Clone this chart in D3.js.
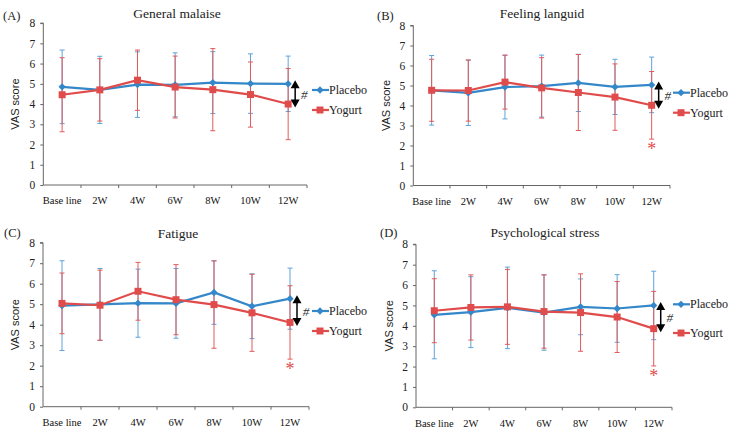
<!DOCTYPE html>
<html><head><meta charset="utf-8">
<script src="https://cdn.jsdelivr.net/npm/d3@7"></script>
<style>body{margin:0;background:#fff}svg{display:block}</style>
</head><body>
<svg id="c" width="730" height="433"></svg>
<script>
const categories = ["Base line","2W","4W","6W","8W","10W","12W"];
const yTicks = [0,1,2,3,4,5,6,7,8];
const panelTitles = ["General malaise","Feeling languid","Fatigue","Psychological stress"];
const panelLabels = ["(A)","(B)","(C)","(D)"];
const seriesNames = ["Placebo","Yogurt"];

const placeboMeanA = [4.85, 4.70, 4.96, 4.95, 5.06, 5.01, 5.00];
const placeboSdA   = [1.82, 1.66, 1.62, 1.58, 1.53, 1.47, 1.37];
const yogurtMeanA  = [4.46, 4.70, 5.18, 4.84, 4.71, 4.47, 4.00];
const yogurtSdA    = [1.83, 1.54, 1.49, 1.53, 2.03, 1.61, 1.76];

const placeboMeanB = [4.76, 4.63, 4.92, 4.97, 5.13, 4.93, 5.03];
const placeboSdB   = [1.74, 1.63, 1.59, 1.55, 1.43, 1.38, 1.39];
const yogurtMeanB  = [4.76, 4.75, 5.17, 4.88, 4.65, 4.42, 4.01];
const yogurtSdB    = [1.55, 1.53, 1.35, 1.51, 1.90, 1.66, 1.69];

const placeboMeanC = [4.93, 4.99, 5.05, 5.04, 5.57, 4.90, 5.27];
const placeboSdC   = [2.19, 1.75, 1.66, 1.70, 1.55, 1.58, 1.49];
const yogurtMeanC  = [5.04, 4.95, 5.63, 5.22, 4.98, 4.58, 4.11];
const yogurtSdC    = [1.48, 1.71, 1.41, 1.71, 2.13, 1.88, 1.79];

const placeboMeanD = [4.54, 4.67, 4.88, 4.65, 4.93, 4.85, 5.00];
const placeboSdD   = [2.16, 1.74, 2.00, 1.85, 1.37, 1.66, 1.68];
const yogurtMeanD  = [4.74, 4.90, 4.93, 4.70, 4.65, 4.43, 3.86];
const yogurtSdD    = [1.57, 1.60, 1.84, 1.80, 1.90, 1.74, 1.83];

// significance: which panels show the asterisk at 12W
const showStar = [false, true, true, true];

const panelData = [
  [placeboMeanA, placeboSdA, yogurtMeanA, yogurtSdA],
  [placeboMeanB, placeboSdB, yogurtMeanB, yogurtSdB],
  [placeboMeanC, placeboSdC, yogurtMeanC, yogurtSdC],
  [placeboMeanD, placeboSdD, yogurtMeanD, yogurtSdD]
];

// layout (pixels)
const layout = [
  {x0:43.3, x1:307, yb:185, yt:23.1, tx:177, ty:18, lx:3, ly:20, vx:15, legY:[90,110], legX:312},
  {x0:413.3, x1:670, yb:185.5, yt:25.5, tx:542, ty:18, lx:377, ly:20, vx:386, legY:[92.7,112.7], legX:673},
  {x0:43, x1:309, yb:406.7, yt:242.7, tx:178, ty:238, lx:4, ly:237, vx:15, legY:[311,331], legX:312},
  {x0:416, x1:672, yb:407.3, yt:244.3, tx:545, ty:237, lx:380, ly:237, vx:389, legY:[304.3,333], legX:673}
];

const BLUE = "#3487c8", RED = "#e04b4b";
const BLUE_EB = "#5fa3d9", RED_EB = "#e35a5a";
const serif = "'Liberation Serif','DejaVu Serif',serif";
const sans = "'Liberation Sans',Arial,sans-serif";

const svg = d3.select("#c");

panelData.forEach((pd, pi) => {
  const L = layout[pi];
  const g = svg.append("g");
  const x = d3.scaleBand().domain(categories).range([L.x0, L.x1]).padding(0);
  const y = d3.scaleLinear().domain([0, 8]).range([L.yb, L.yt]);
  const cx = c => x(c) + x.bandwidth()/2;

  // y axis
  const ya = g.append("g").attr("transform", `translate(${L.x0},0)`)
    .call(d3.axisLeft(y).tickValues(yTicks).tickSize(3).tickPadding(5));
  ya.select(".domain").attr("stroke", "#666").attr("d", `M-3,${y(8)}H0V${y(0)}`);
  ya.selectAll(".tick line").attr("stroke", "#666");
  ya.selectAll(".tick text").attr("font-family", serif).attr("font-size", 11.5).attr("fill", "#222");

  // x axis: ticks between categories
  const xa = g.append("g").attr("transform", `translate(0,${L.yb})`)
    .call(d3.axisBottom(x).tickSize(0).tickPadding(12));
  xa.select(".domain").attr("stroke", "#666").attr("d", `M${L.x0},0H${L.x1}`);
  xa.selectAll(".tick text").attr("font-family", serif).attr("font-size", 10.5).attr("fill", "#111");
  g.append("g").selectAll("line").data(categories.slice(1).concat(["__end"]))
    .join("line")
    .attr("x1", (c,i) => i < categories.length-1 ? x(c) : L.x1)
    .attr("x2", (c,i) => i < categories.length-1 ? x(c) : L.x1)
    .attr("y1", L.yb).attr("y2", L.yb + 3).attr("stroke", "#666");

  const series = [
    {mean: pd[0], sd: pd[1], col: BLUE, eb: BLUE_EB, shape: "diamond"},
    {mean: pd[2], sd: pd[3], col: RED, eb: RED_EB, shape: "square"}
  ];

  // error bars (blue first, then red)
  series.forEach(s => {
    const eg = g.append("g").attr("stroke", s.eb).attr("stroke-width", 1);
    categories.forEach((c, i) => {
      const xc = cx(c), hi = y(s.mean[i] + s.sd[i]), lo = y(s.mean[i] - s.sd[i]);
      eg.append("line").attr("x1", xc).attr("x2", xc).attr("y1", hi).attr("y2", lo);
      eg.append("line").attr("x1", xc-2.5).attr("x2", xc+2.5).attr("y1", hi).attr("y2", hi);
      eg.append("line").attr("x1", xc-2.5).attr("x2", xc+2.5).attr("y1", lo).attr("y2", lo);
    });
  });

  // lines and markers
  series.forEach(s => {
    const line = d3.line().x((v,i) => cx(categories[i])).y(v => y(v));
    g.append("path").attr("d", line(s.mean)).attr("fill", "none")
      .attr("stroke", s.col).attr("stroke-width", 2.2);
    const sym = s.shape === "diamond"
      ? d3.symbol().type(d3.symbolDiamond2).size(34)
      : d3.symbol().type(d3.symbolSquare2).size(62);
    g.append("g").selectAll("path").data(s.mean).join("path")
      .attr("d", sym)
      .attr("transform", (v,i) => `translate(${cx(categories[i])},${y(v)})`)
      .attr("fill", s.col);
  });

  // double-headed arrow at 12W
  const last = categories.length - 1;
  const xl = cx(categories[last]) + 7;
  const yTop = y(pd[0][last]) - 3.5, yBot = y(pd[2][last]) + 3.5;
  g.append("line").attr("x1", xl).attr("x2", xl).attr("y1", yTop + 6).attr("y2", yBot - 6)
    .attr("stroke", "#000").attr("stroke-width", 1.5);
  g.append("path").attr("d", `M${xl},${yTop}L${xl-4.5},${yTop+8}L${xl+4.5},${yTop+8}Z`).attr("fill", "#000");
  g.append("path").attr("d", `M${xl},${yBot}L${xl-4.5},${yBot-8}L${xl+4.5},${yBot-8}Z`).attr("fill", "#000");
  g.append("text").attr("x", xl + 9).attr("y", (yTop + yBot)/2 + 5)
    .attr("text-anchor", "middle").attr("font-family", serif).attr("font-size", 13)
    .attr("font-style", "italic").attr("fill", "#333").text("#");

  if (showStar[pi]) {
    const ylo = y(pd[2][last] - pd[3][last]);
    g.append("text").attr("x", cx(categories[last])).attr("y", ylo + 16)
      .attr("text-anchor", "middle").attr("font-family", serif).attr("font-size", 18)
      .attr("fill", RED).text("*");
  }

  // legend
  series.forEach((s, si) => {
    const ly = L.legY[si];
    g.append("line").attr("x1", L.legX).attr("x2", L.legX + 17).attr("y1", ly).attr("y2", ly)
      .attr("stroke", s.col).attr("stroke-width", 2.2);
    const sym = s.shape === "diamond"
      ? d3.symbol().type(d3.symbolDiamond2).size(34)
      : d3.symbol().type(d3.symbolSquare2).size(62);
    g.append("path").attr("d", sym).attr("transform", `translate(${L.legX + 8},${ly})`).attr("fill", s.col);
    g.append("text").attr("x", L.legX + 17).attr("y", ly + 4)
      .attr("font-family", serif).attr("font-size", 12).attr("fill", "#222").text(seriesNames[si]);
  });

  // titles and labels
  g.append("text").attr("x", L.tx).attr("y", L.ty).attr("text-anchor", "middle")
    .attr("font-family", serif).attr("font-size", 13.5).attr("fill", "#222").text(panelTitles[pi]);
  g.append("text").attr("x", L.lx).attr("y", L.ly)
    .attr("font-family", serif).attr("font-size", 12.5).attr("fill", "#222").text(panelLabels[pi]);
  g.append("text").attr("transform", `translate(${L.vx},${(L.yb + L.yt)/2}) rotate(-90)`)
    .attr("dy", "0.35em")
    .attr("text-anchor", "middle").attr("font-family", sans).attr("font-size", 11)
    .attr("fill", "#222").text("VAS score");
});
</script>
</body></html>
